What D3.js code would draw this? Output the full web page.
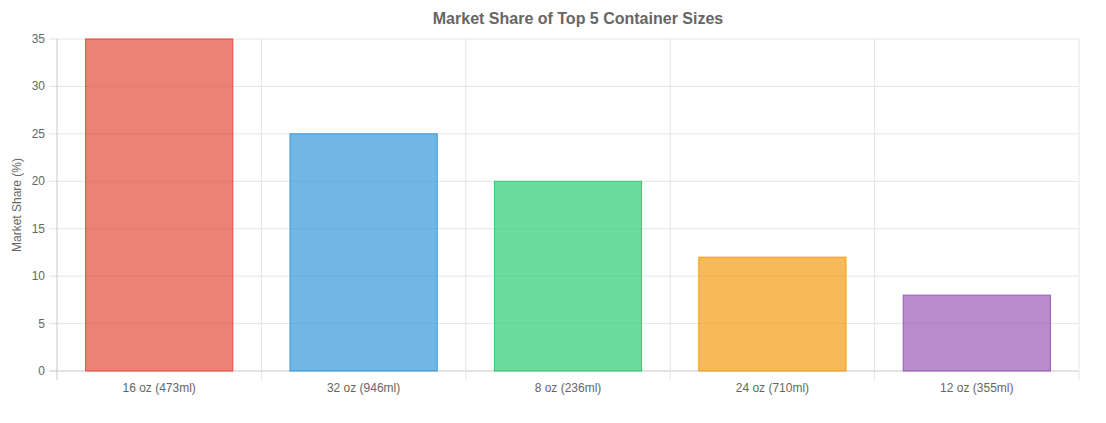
<!DOCTYPE html><html><head><meta charset="utf-8"><script src="https://cdn.jsdelivr.net/npm/d3@7"></script>
<style>body{margin:0;background:#fff}text{font-family:"Helvetica Neue",Helvetica,Arial,"Liberation Sans",sans-serif}</style></head><body><svg width="1106" height="423"></svg><script>
const categories=["16 oz (473ml)","32 oz (946ml)","8 oz (236ml)","24 oz (710ml)","12 oz (355ml)"];
const values=[35,25,20,12,8];
const colors=["#e74c3c","#3498db","#2ecc71","#f39c12","#9b59b6"];
const yTicks=[0,5,10,15,20,25,30,35];
const svg=d3.select("svg");
const L=57,R=1079,T=39,B=371;
const x=d3.scaleBand().domain(categories).range([L,R]).paddingInner(0).paddingOuter(0);
const y=d3.scaleLinear().domain([0,35]).range([B,T]);
const g=svg.append("g");
yTicks.forEach(t=>{g.append("line").attr("x1",49).attr("x2",R).attr("y1",y(t)).attr("y2",y(t)).attr("stroke",t==0?"#c8c8c8":"#e5e5e5");
g.append("text").attr("x",45).attr("y",y(t)+4).attr("text-anchor","end").attr("font-size",12).attr("fill","#666").text(t);});
const vx=categories.map(c=>x(c)).concat([R]);
vx.forEach((v,i)=>g.append("line").attr("x1",v).attr("x2",v).attr("y1",T).attr("y2",380).attr("stroke",i==0?"#c8c8c8":"#e5e5e5"));
const bw=x.bandwidth()*0.72;
categories.forEach((c,i)=>{const cx=x(c)+x.bandwidth()/2;
g.append("rect").attr("x",cx-bw/2).attr("width",bw).attr("y",y(values[i])).attr("height",B-y(values[i])).attr("fill",colors[i]).attr("fill-opacity",0.7).attr("stroke",colors[i]).attr("stroke-width",1);
g.append("text").attr("x",cx).attr("y",392).attr("text-anchor","middle").attr("font-size",12).attr("fill","#666").text(c);});
svg.append("text").attr("x",(L+R)/2+10).attr("y",24).attr("text-anchor","middle").attr("font-size",16).attr("font-weight","bold").attr("fill","#666").text("Market Share of Top 5 Container Sizes");
svg.append("text").attr("transform",`translate(21,${(T+B)/2}) rotate(-90)`).attr("text-anchor","middle").attr("font-size",12).attr("fill","#666").text("Market Share (%)");
</script></body></html>
